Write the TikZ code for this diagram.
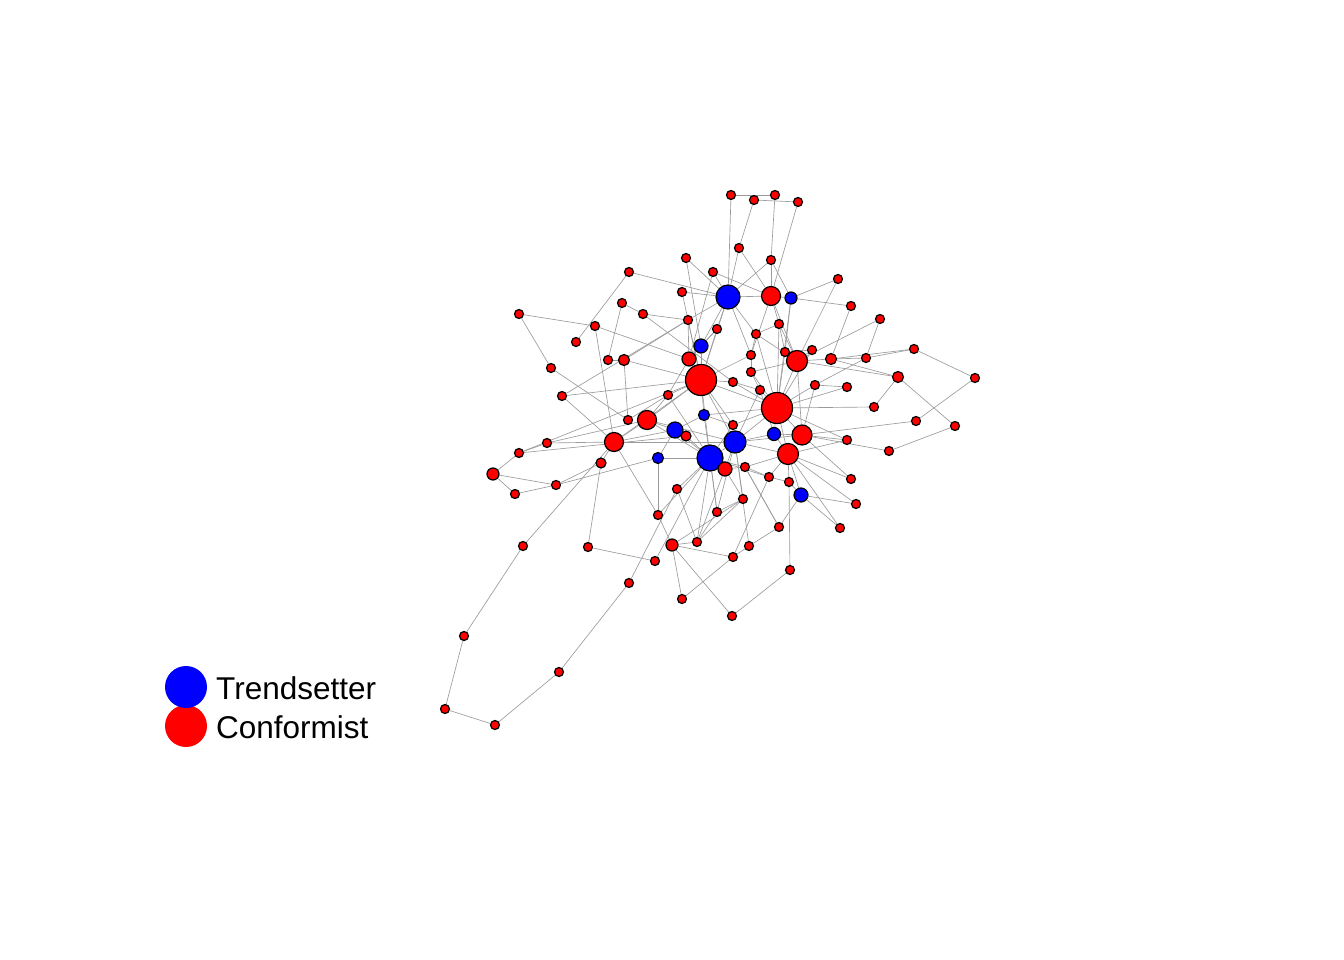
\documentclass[tikz,border=0pt]{standalone}
\usepackage{fontspec}
\setmainfont{Liberation Sans}
\usetikzlibrary{backgrounds}
\definecolor{edgegray}{RGB}{155,155,155}
\tikzset{
  v/.style={circle,draw=black,line width=1.2pt,fill=red,inner sep=0pt,minimum size=#1},
  b/.style={v=#1,fill=blue},
  edge/.style={draw=edgegray,line width=0.65pt},
  legdot/.style={circle,inner sep=0pt,minimum size=42pt,fill=#1},
  legtext/.style={anchor=west,font=\fontsize{31.5}{31.5}\selectfont,inner sep=0pt}
}
\begin{document}
\begin{tikzpicture}[x=1pt,y=-1pt]
\useasboundingbox (0,0) rectangle (1344,960);
% nodes
\node[v=9] (n1) at (731,195) {};
\node[v=9] (n2) at (754,200) {};
\node[v=9] (n3) at (775,195) {};
\node[v=9] (n4) at (798,202) {};
\node[v=9] (n5) at (739,248) {};
\node[v=9] (n6) at (771,260) {};
\node[v=9] (n7) at (686,258) {};
\node[v=9] (n8) at (713,272) {};
\node[v=9] (n9) at (629,272) {};
\node[v=9] (n10) at (838,279) {};
\node[v=9] (n11) at (682,292) {};
\node[b=24] (n12) at (728,297) {};
\node[v=19] (n13) at (771,296) {};
\node[b=12] (n14) at (791,298) {};
\node[v=9] (n15) at (622,303) {};
\node[v=9] (n16) at (851,306) {};
\node[v=9] (n17) at (519,314) {};
\node[v=9] (n18) at (643,314) {};
\node[v=9] (n19) at (688,320) {};
\node[v=9] (n20) at (717,329) {};
\node[v=9] (n21) at (756,334) {};
\node[v=9] (n22) at (779,324) {};
\node[v=9] (n23) at (880,319) {};
\node[v=9] (n24) at (595,326) {};
\node[v=9] (n25) at (576,342) {};
\node[b=14] (n26) at (701,346) {};
\node[v=9] (n27) at (751,355) {};
\node[v=9] (n28) at (785,352) {};
\node[v=9] (n29) at (812,350) {};
\node[v=21] (n30) at (797,361) {};
\node[v=11] (n31) at (831,359) {};
\node[v=9] (n32) at (866,358) {};
\node[v=9] (n33) at (914,349) {};
\node[v=9] (n34) at (608,360) {};
\node[v=11] (n35) at (624,360) {};
\node[v=14] (n36) at (689,359) {};
\node[v=31] (n37) at (701,380) {};
\node[v=9] (n38) at (733,382) {};
\node[v=9] (n39) at (751,372) {};
\node[v=9] (n40) at (551,368) {};
\node[v=11] (n41) at (898,377) {};
\node[v=9] (n42) at (975,378) {};
\node[v=9] (n43) at (815,385) {};
\node[v=9] (n44) at (847,387) {};
\node[v=9] (n45) at (760,390) {};
\node[v=9] (n46) at (562,396) {};
\node[v=9] (n47) at (668,395) {};
\node[v=31] (n48) at (777,408) {};
\node[b=11] (n49) at (704,415) {};
\node[v=9] (n50) at (628,420) {};
\node[v=19] (n51) at (647,420) {};
\node[v=9] (n52) at (733,425) {};
\node[v=9] (n53) at (874,407) {};
\node[v=9] (n54) at (916,421) {};
\node[v=9] (n55) at (955,426) {};
\node[v=9] (n56) at (547,443) {};
\node[v=19] (n57) at (614,442) {};
\node[b=16] (n58) at (675,430) {};
\node[v=10] (n59) at (686,436) {};
\node[b=22] (n60) at (735,442) {};
\node[b=13] (n61) at (774,434) {};
\node[v=20] (n62) at (802,435) {};
\node[v=9] (n63) at (847,440) {};
\node[v=9] (n64) at (519,453) {};
\node[b=11] (n65) at (658,458) {};
\node[b=26] (n66) at (710,458) {};
\node[v=21] (n67) at (788,454) {};
\node[v=9] (n68) at (889,451) {};
\node[v=14] (n69) at (725,469) {};
\node[v=9] (n70) at (745,467) {};
\node[v=10] (n71) at (601,463) {};
\node[v=12] (n72) at (493,474) {};
\node[v=9] (n73) at (769,477) {};
\node[v=9] (n74) at (789,482) {};
\node[v=9] (n75) at (851,479) {};
\node[v=9] (n76) at (556,485) {};
\node[v=9] (n77) at (677,489) {};
\node[v=9] (n78) at (515,494) {};
\node[b=14] (n79) at (801,495) {};
\node[v=9] (n80) at (856,504) {};
\node[v=9] (n81) at (743,499) {};
\node[v=9] (n82) at (658,515) {};
\node[v=9] (n83) at (717,512) {};
\node[v=9] (n84) at (779,527) {};
\node[v=9] (n85) at (840,528) {};
\node[v=9] (n86) at (697,542) {};
\node[v=12] (n87) at (672,545) {};
\node[v=9] (n88) at (749,546) {};
\node[v=9] (n89) at (523,546) {};
\node[v=9] (n90) at (588,547) {};
\node[v=9] (n91) at (733,557) {};
\node[v=9] (n92) at (655,561) {};
\node[v=9] (n93) at (790,570) {};
\node[v=9] (n94) at (629,583) {};
\node[v=9] (n95) at (682,599) {};
\node[v=9] (n96) at (732,616) {};
\node[v=9] (n97) at (464,636) {};
\node[v=9] (n98) at (559,672) {};
\node[v=9] (n99) at (445,709) {};
\node[v=9] (n100) at (495,725) {};
% edges
\begin{pgfonlayer}{background}
\foreach \a/\b in {1/3,2/4,2/5,3/6,4/13,5/13,6/13,6/14,7/26,8/36,8/13,9/25,9/12,17/24,17/40,15/34,15/18,18/38,24/36,13/14,10/14,14/16,10/30,16/31,23/32,23/30,31/32,31/33,31/41,33/42,42/54,41/55,41/53,32/43,44/48,53/48,54/62,55/68,68/62,75/62,75/67,80/79,80/67,85/79,85/67,96/93,93/74,87/96,87/95,91/95,87/91,91/73,84/88,79/84,81/86,77/86,87/81,82/87,94/77,94/98,90/92,90/71,72/78,72/76,78/76,76/71,76/65,89/57,89/97,97/99,99/100,100/98,57/71,64/72,64/56,56/51,64/59,40/50,35/50,35/19,46/19,46/57,34/35,24/57,82/57,82/65,11/12,7/12,1/12,5/12,6/12,12/13,63/62,63/67,92/66,86/69,83/66,84/70}
  \draw[edge] (n\a) -- (n\b);
\foreach \a/\b in {37/26,37/36,37/38,37/47,37/49,37/51,37/57,37/12,37/20,37/35,37/46,37/48,37/66,37/60,37/52,37/19,37/64,37/11,37/27,48/39,48/45,48/43,48/30,48/28,48/21,48/61,48/62,48/67,48/60,48/38,48/22,48/29,48/49,48/14,48/52,48/63,66/58,66/59,66/65,66/69,66/70,66/60,66/52,66/49,66/77,66/82,66/51,66/73,66/86,66/47,60/61,60/69,60/45,60/81,60/88,60/62,67/61,67/73,67/74,67/79,67/70,62/61,62/43,30/28,30/29,30/31,30/41,30/22,30/21,30/13,12/20,12/26,12/19,12/8,12/21,12/27,51/58,51/57,51/47,57/58,21/27,27/39,28/29,20/36,19/36,26/36,45/39,38/45,49/58,59/58,65/58,52/49,32/33,44/43,73/74,74/79,81/83,83/86,70/73,69/70,88/91,86/87,22/21,13/22,47/36,50/47,56/57,18/19,57/60,51/60,62/30,67/60,13/27,22/28,26/20,39/30,45/61,14/28,66/83,69/81,70/84,60/83}
  \draw[edge] (n\a) -- (n\b);
\end{pgfonlayer}
% legend
\node[legdot=red] (lc) at (186,726) {};
\node[legdot=blue] (lt) at (186,687) {};
\node[legtext] (tt) at (216,688) {Trendsetter};
\node[legtext] (tc) at (216,727) {Conformist};
\end{tikzpicture}
\end{document}
